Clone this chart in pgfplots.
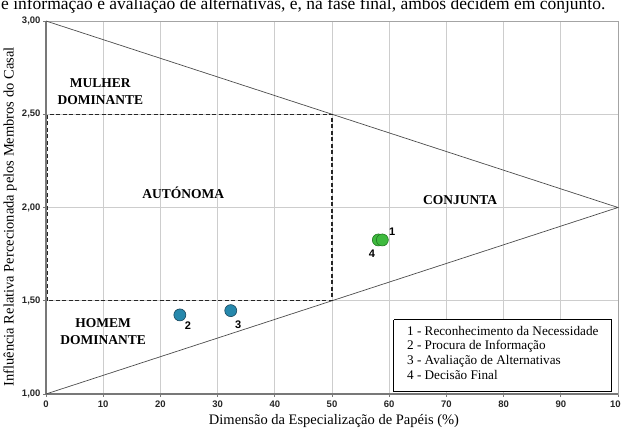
\documentclass[border=0pt]{standalone}
\usepackage{pgfplots}
\pgfplotsset{compat=1.18}
\usepackage{fontspec}
\setmainfont{Liberation Serif}
\setsansfont{Liberation Sans}
\definecolor{ptgreen}{RGB}{62,186,62}
\definecolor{ptgreendark}{RGB}{35,120,35}
\definecolor{ptblue}{RGB}{38,136,172}
\definecolor{ptbluedark}{RGB}{25,70,92}
\definecolor{gridgray}{RGB}{205,205,205}
\definecolor{axisgray}{RGB}{120,120,120}
\begin{document}
\begin{tikzpicture}[x=1pt,y=1pt]
\useasboundingbox (0,0) rectangle (621,436);
% caption line above the chart
\node[anchor=base west, inner sep=0pt] at (1,426) {\resizebox{604pt}{!}{e informação e avaliação de alternativas, e, na fase final, ambos decidem em conjunto.}};
% y label
\node[rotate=90, inner sep=0pt, font=\fontsize{14.5}{16}\selectfont] at (10,219) {Influência Relativa Percecionada pelos Membros do Casal};
% x label
\node[inner sep=0pt, font=\fontsize{14.5}{16}\selectfont] at (334,15) {Dimensão da Especialização de Papéis (\%)};
\begin{axis}[
  at={(46pt,42pt)}, anchor=south west,
  scale only axis, width=572pt, height=373pt,
  xmin=0, xmax=100, ymin=1, ymax=3,
  clip=false,
  axis line style={draw=gridgray!80!black, line width=0.8pt},
  xtick={0,10,...,100},
  xticklabels={0,10,20,30,40,50,60,70,80,90,100},
  ytick={1,1.5,2,2.5,3},
  yticklabels={{1,00},{1,50},{2,00},{2,50},{3,00}},
  tick pos=left, tick align=outside,
  major tick length=3pt,
  tick style={draw=axisgray, line width=0.8pt},
  grid=major,
  grid style={draw=gridgray, line width=0.7pt},
  ticklabel style={font=\fontsize{9.5}{11}\selectfont\sffamily\bfseries, text=black!85},
  yticklabel style={xshift=1pt},
  /pgf/number format/assume math mode=true,
]
% axis lines left and bottom darker
\addplot[draw=axisgray, line width=1.4pt] coordinates {(0,3) (0,1) (100,1)};
% triangle
\addplot[draw=black!70, line width=0.7pt] coordinates {(0,3) (100,2) (0,1)};
% dashed rectangle
\addplot[draw=black!85, line width=1.2pt, dash pattern=on 4pt off 2.5pt] coordinates {(0.3,1.5) (0.3,2.5) (50,2.5) (50,1.5) (0.3,1.5)};
% points
\addplot[only marks, mark=*, mark size=6pt, mark options={fill=ptblue, draw=ptbluedark, line width=0.6pt}] coordinates {(23.4,1.424) (32.3,1.447)};
\addplot[only marks, mark=*, mark size=6pt, mark options={fill=ptgreen, draw=ptgreendark, line width=0.6pt}] coordinates {(58.1,1.826) (58.8,1.826)};
% point numbers
\node[font=\fontsize{11}{12}\selectfont\sffamily\bfseries] at (axis cs:60.5,1.87) {1};
\node[font=\fontsize{11}{12}\selectfont\sffamily\bfseries] at (axis cs:57.0,1.75) {4};
\node[font=\fontsize{11}{12}\selectfont\sffamily\bfseries] at (axis cs:24.8,1.368) {2};
\node[font=\fontsize{11}{12}\selectfont\sffamily\bfseries] at (axis cs:33.6,1.372) {3};
% region labels
\node[align=center, font=\fontsize{13.5}{17}\selectfont\bfseries] at (axis cs:9.5,2.62) {MULHER\\DOMINANTE};
\node[font=\fontsize{13.5}{17}\selectfont\bfseries] at (axis cs:24,2.078) {AUTÓNOMA};
\node[font=\fontsize{13.5}{17}\selectfont\bfseries] at (axis cs:72.4,2.04) {CONJUNTA};
\node[align=center, font=\fontsize{13.5}{17}\selectfont\bfseries] at (axis cs:10,1.333) {HOMEM\\DOMINANTE};
% legend box
\addplot[draw=black, line width=1pt, fill=white] coordinates {(60.8,1.397) (98.9,1.397) (98.9,1.014) (60.8,1.014) (60.8,1.397)};
\node[anchor=north west, align=left, inner sep=0pt, font=\fontsize{13.2}{14.7}\selectfont] at (axis cs:63.1,1.365) {1 - Reconhecimento da Necessidade\\2 - Procura de Informação\\3 - Avaliação de Alternativas\\4 - Decisão Final};
\end{axis}
\end{tikzpicture}
\end{document}
